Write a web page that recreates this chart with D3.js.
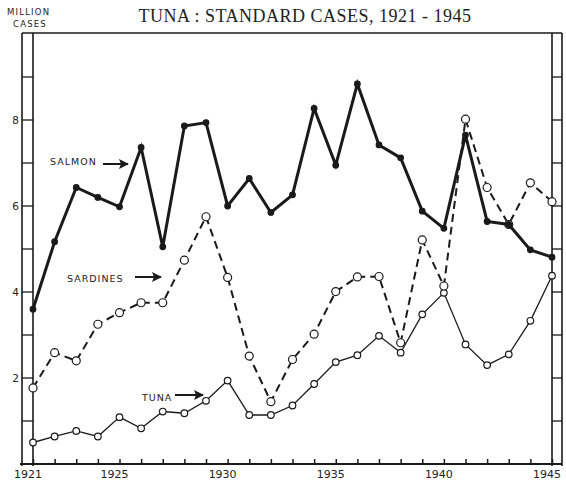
<!DOCTYPE html>
<html>
<head>
<meta charset="utf-8">
<script src="https://cdn.jsdelivr.net/npm/d3@7"></script>
<style>
  body { margin: 0; background: #fff; }
  text { fill: #222; }
</style>
</head>
<body>
<svg></svg>
<script>
//	data
var years = d3.range(1921, 1946);
var salmon = [3.6, 5.17, 6.43, 6.2, 5.98, 7.36, 5.05, 7.86, 7.94, 6.0, 6.64, 5.85, 6.26, 8.27, 6.95, 8.84, 7.42, 7.12, 5.88, 5.48, 7.65, 5.64, 5.57, 4.98, 4.81];
var sardines = [1.77, 2.59, 2.4, 3.25, 3.52, 3.75, 3.75, 4.74, 5.75, 4.34, 2.51, 1.45, 2.43, 3.02, 4.01, 4.35, 4.36, 2.82, 5.21, 4.14, 8.02, 6.43, 5.57, 6.54, 6.1];
var tuna = [0.5, 0.64, 0.77, 0.64, 1.09, 0.83, 1.22, 1.18, 1.47, 1.94, 1.14, 1.14, 1.36, 1.86, 2.37, 2.53, 2.98, 2.59, 3.48, 3.98, 2.78, 2.3, 2.55, 3.33, 4.38];
var yTickLabels = [2, 4, 6, 8];
var xTickLabels = [1921, 1925, 1930, 1935, 1940, 1945];

var width = 566, height = 484;
var svg = d3.select("svg").attr("width", width).attr("height", height);

//	scales
var x = d3.scaleLinear().domain([1921, 1945]).range([33, 552]);
var y = d3.scaleLinear().domain([0, 10]).range([464, 34]);

var ink = "#1a1a1a";
var frameTop = 33, frameBottom = 464, bandL = 22, bandR = 562;

//	title
svg.append("text")
    .attr("x", 305).attr("y", 22)
    .attr("text-anchor", "middle")
    .style("font-family", "Liberation Serif, serif")
    .style("font-size", "18px")
    .style("letter-spacing", "0.5px")
    .text("TUNA : STANDARD CASES, 1921 - 1945");

svg.append("text").attr("x", 7).attr("y", 15)
    .style("font-family", "DejaVu Sans, sans-serif").style("font-size", "8.5px")
    .style("letter-spacing", "1.2px").text("MILLION");
svg.append("text").attr("x", 13).attr("y", 27)
    .style("font-family", "DejaVu Sans, sans-serif").style("font-size", "8.5px")
    .style("letter-spacing", "1.2px").text("CASES");

//	frame
var frame = svg.append("g").attr("stroke", ink).attr("fill", "none");
frame.append("line").attr("x1", bandL).attr("x2", bandR).attr("y1", frameTop).attr("y2", frameTop).attr("stroke-width", 1.3);
frame.append("line").attr("x1", bandL - 2).attr("x2", bandR).attr("y1", frameBottom).attr("y2", frameBottom).attr("stroke-width", 1.8);
[bandL, x(1921), x(1945), bandR].forEach(function(px) {
    frame.append("line").attr("x1", px).attr("x2", px).attr("y1", frameTop).attr("y2", frameBottom + 2).attr("stroke-width", 1.6);
});

//	band ticks
var vTicks = d3.range(1, 10);
frame.selectAll(".lt").data(vTicks).enter().append("line")
    .attr("x1", bandL).attr("x2", x(1921))
    .attr("y1", function(d) { return y(d); }).attr("y2", function(d) { return y(d); })
    .attr("stroke-width", 1.3);
frame.selectAll(".rt").data(vTicks).enter().append("line")
    .attr("x1", x(1945)).attr("x2", bandR)
    .attr("y1", function(d) { return y(d); }).attr("y2", function(d) { return y(d); })
    .attr("stroke-width", 1.3);

svg.selectAll(".yl").data(yTickLabels).enter().append("text")
    .attr("x", 19).attr("y", function(d) { return y(d) + 4; })
    .attr("text-anchor", "end")
    .style("font-family", "DejaVu Sans, sans-serif").style("font-size", "10.5px")
    .text(function(d) { return d; });

//	x axis ticks
var xAxis = d3.axisBottom(x).tickValues(years).tickSize(-5).tickFormat("");
var xg = svg.append("g").attr("transform", "translate(0," + frameBottom + ")").call(xAxis);
xg.select(".domain").remove();
xg.selectAll("line").attr("stroke", ink).attr("stroke-width", 1.5);

svg.selectAll(".xl").data(xTickLabels).enter().append("text")
    .attr("x", function(d) { return x(d) - 5; }).attr("y", 478)
    .attr("text-anchor", "middle")
    .style("font-family", "DejaVu Sans, sans-serif").style("font-size", "11px")
    .text(function(d) { return d; });

//	series
function series(vals, opts) {
    var pts = vals.map(function(v, i) { return [years[i], v]; });
    var line = d3.line().x(function(d) { return x(d[0]); }).y(function(d) { return y(d[1]); });
    svg.append("path").datum(pts)
        .attr("d", line)
        .attr("fill", "none")
        .attr("stroke", ink)
        .attr("stroke-width", opts.sw)
        .attr("stroke-dasharray", opts.dash || null)
        .attr("stroke-linejoin", "miter");
    svg.append("g").selectAll("circle").data(pts).enter().append("circle")
        .attr("cx", function(d) { return x(d[0]); })
        .attr("cy", function(d) { return y(d[1]); })
        .attr("r", opts.r)
        .attr("fill", opts.fill)
        .attr("stroke", ink)
        .attr("stroke-width", 1.2);
}

series(tuna, { sw: 1.3, r: 3.3, fill: "#fff" });
series(sardines, { sw: 2, r: 4, fill: "#fff", dash: "8,5" });
series(salmon, { sw: 3, r: 2.8, fill: ink });

//	labels with arrows
var defs = svg.append("defs");
defs.append("marker").attr("id", "ah").attr("viewBox", "0 0 10 10")
    .attr("refX", 9).attr("refY", 5).attr("markerWidth", 5).attr("markerHeight", 5)
    .attr("orient", "auto").attr("markerUnits", "strokeWidth")
    .append("path").attr("d", "M0,0 L10,5 L0,10 L2,5 z").attr("fill", ink);

var labels = [
    { t: "SALMON", tx: 50, ty: 165, x1: 103, x2: 128, ay: 164 },
    { t: "SARDINES", tx: 67, ty: 282, x1: 135, x2: 161, ay: 277 },
    { t: "TUNA", tx: 142, ty: 401, x1: 175, x2: 203, ay: 395 }
];
labels.forEach(function(l) {
    svg.append("text").attr("x", l.tx).attr("y", l.ty)
        .style("font-family", "DejaVu Sans, sans-serif").style("font-size", "9.5px")
        .style("letter-spacing", "1px").text(l.t);
    svg.append("line").attr("x1", l.x1).attr("x2", l.x2).attr("y1", l.ay).attr("y2", l.ay)
        .attr("stroke", ink).attr("stroke-width", 2)
        .attr("marker-end", "url(#ah)");
});
</script>
</body>
</html>
